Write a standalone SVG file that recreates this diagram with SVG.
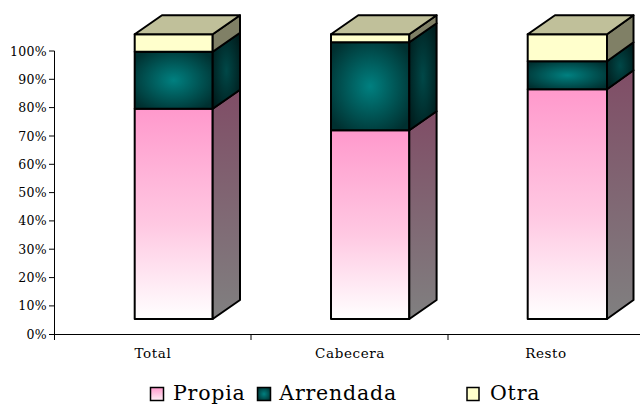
<svg xmlns="http://www.w3.org/2000/svg" width="640" height="405" viewBox="0 0 640 405">
<defs>
<linearGradient id="gPropia" x1="0" y1="0" x2="0" y2="1">
<stop offset="0" stop-color="#FF99CC"/>
<stop offset="0.55" stop-color="#FFC8E2"/>
<stop offset="1" stop-color="#FFFFFF"/>
</linearGradient>
<linearGradient id="gPropiaSide" x1="0" y1="0" x2="0" y2="1">
<stop offset="0" stop-color="#804D66"/>
<stop offset="1" stop-color="#808080"/>
</linearGradient>
<radialGradient id="gArr" cx="0.5" cy="0.5" r="0.62">
<stop offset="0" stop-color="#008080"/>
<stop offset="1" stop-color="#003030"/>
</radialGradient>
<radialGradient id="gArrSide" cx="0.5" cy="0.5" r="0.62">
<stop offset="0" stop-color="#004848"/>
<stop offset="1" stop-color="#001C1C"/>
</radialGradient>
<linearGradient id="gLegP" x1="0" y1="0" x2="0" y2="1">
<stop offset="0" stop-color="#FF99CC"/>
<stop offset="1" stop-color="#FFF0F7"/>
</linearGradient>
</defs>
<style>
.e{stroke:#000;stroke-width:2;stroke-linejoin:round}
.pf{fill:url(#gPropia)}
.ps{fill:url(#gPropiaSide)}
.af{fill:url(#gArr)}
.as{fill:url(#gArrSide)}
.of{fill:#FFFFCC}
.os{fill:#808066}
.ot{fill:#C0C09A}
.ax{stroke:#000;stroke-width:1;fill:none}
.yl{font-family:"DejaVu Serif",serif;font-size:12.5px;letter-spacing:0.3px;text-anchor:end;fill:#000}
.cl{font-family:"DejaVu Serif",serif;font-size:13.5px;letter-spacing:0.6px;text-anchor:middle;fill:#000}
.lg{font-family:"DejaVu Serif",serif;font-size:20.5px;letter-spacing:0.8px;fill:#000}
.ls{stroke:#000;stroke-width:1.5}
</style>
<rect width="640" height="405" fill="#FFFFFF"/>
<g id="axes">
<path class="ax" d="M54.5,51V340M49,51H54.5M49,79.3H54.5M49,107.6H54.5M49,136H54.5M49,164.3H54.5M49,192.6H54.5M49,220.9H54.5M49,249.2H54.5M49,277.6H54.5M49,305.9H54.5M49,334.5H640M251,334.5V340M448,334.5V340"/>
<text class="yl" x="47" y="55.5">100%</text>
<text class="yl" x="47" y="83.8">90%</text>
<text class="yl" x="47" y="112.1">80%</text>
<text class="yl" x="47" y="140.5">70%</text>
<text class="yl" x="47" y="168.8">60%</text>
<text class="yl" x="47" y="197.1">50%</text>
<text class="yl" x="47" y="225.4">40%</text>
<text class="yl" x="47" y="253.7">30%</text>
<text class="yl" x="47" y="282.1">20%</text>
<text class="yl" x="47" y="310.4">10%</text>
<text class="yl" x="47" y="339">0%</text>
<text class="cl" x="153" y="357.7">Total</text>
<text class="cl" x="350" y="357.7">Cabecera</text>
<text class="cl" x="546" y="357.7">Resto</text>
</g>
<g id="bar-total">
<rect class="e pf" x="134.7" y="108.7" width="78" height="210.3"/>
<polygon class="e ps" points="212.7,108.7 240,89.7 240,300 212.7,319"/>
<rect class="e af" x="134.7" y="51.7" width="78" height="57"/>
<polygon class="e as" points="212.7,51.7 240,32.7 240,89.7 212.7,108.7"/>
<rect class="e of" x="134.7" y="34.3" width="78" height="17.4"/>
<polygon class="e os" points="212.7,34.3 240,15.3 240,32.7 212.7,51.7"/>
<polygon class="e ot" points="134.7,34.3 162,15.3 240,15.3 212.7,34.3"/>
</g>
<g id="bar-cabecera">
<rect class="e pf" x="331" y="130.3" width="78.3" height="188.7"/>
<polygon class="e ps" points="409.3,130.3 436.6,111.3 436.6,300 409.3,319"/>
<rect class="e af" x="331" y="42.3" width="78.3" height="88"/>
<polygon class="e as" points="409.3,42.3 436.6,23.3 436.6,111.3 409.3,130.3"/>
<rect class="e of" x="331" y="34.3" width="78.3" height="8"/>
<polygon class="e os" points="409.3,34.3 436.6,15.3 436.6,23.3 409.3,42.3"/>
<polygon class="e ot" points="331,34.3 358.3,15.3 436.6,15.3 409.3,34.3"/>
</g>
<g id="bar-resto">
<rect class="e pf" x="527.7" y="89.3" width="79.3" height="229.7"/>
<polygon class="e ps" points="607,89.3 633.5,70.3 633.5,300 607,319"/>
<rect class="e af" x="527.7" y="61.3" width="79.3" height="28"/>
<polygon class="e as" points="607,61.3 633.5,42.3 633.5,70.3 607,89.3"/>
<rect class="e of" x="527.7" y="34.3" width="79.3" height="27"/>
<polygon class="e os" points="607,34.3 633.5,15.3 633.5,42.3 607,61.3"/>
<polygon class="e ot" points="527.7,34.3 555,15.3 633.5,15.3 607,34.3"/>
</g>
<g id="legend">
<rect class="ls" x="150.5" y="387.5" width="13" height="13" fill="url(#gLegP)"/>
<text class="lg" x="173" y="399.5">Propia</text>
<rect class="ls" x="257.5" y="387.5" width="13" height="13" fill="url(#gArr)"/>
<text class="lg" x="279.3" y="399.5">Arrendada</text>
<rect class="ls" x="467" y="387.5" width="12" height="13" fill="#FFFFCC"/>
<text class="lg" x="490" y="399.5">Otra</text>
</g>
</svg>
